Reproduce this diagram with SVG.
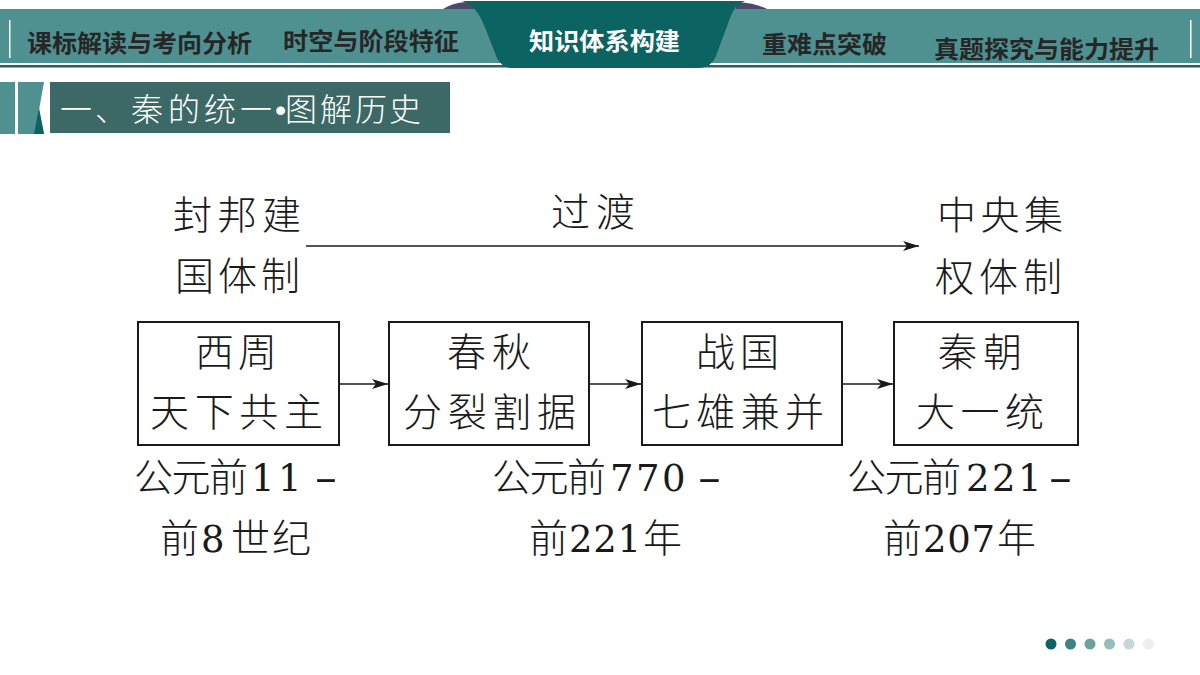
<svg xmlns="http://www.w3.org/2000/svg" width="1200" height="675" viewBox="0 0 1200 675">
<style>
.tab{font-family:"Noto Sans CJK SC","Noto Sans",sans-serif;font-weight:700;font-size:24px;fill:#262626}
.t{font-family:"Noto Sans CJK SC",sans-serif;font-size:39px;fill:#1a1a1a;font-weight:300}
.d{font-family:"DejaVu Serif","Liberation Serif",serif;font-size:37px;fill:#1a1a1a;font-weight:400}
.box{fill:#fff;stroke:#1a1a1a;stroke-width:2}
.c{fill:none;stroke:#1a1a1a;stroke-width:1.6}
</style>
<defs>
<marker id="a" markerUnits="userSpaceOnUse" markerWidth="16" markerHeight="12" refX="16" refY="6" orient="auto"><path d="M0 1 L16 6 L0 11 L4 6 Z" fill="#1a1a1a"/></marker>
</defs>
<g id="header">
<rect x="0" y="9" width="1200" height="54" fill="#4f9191"/>
<rect x="0" y="63" width="1200" height="2" fill="#fff"/>
<rect x="0" y="65" width="1200" height="2.500" fill="#2f5d5d"/>
<rect x="9" y="20" width="1.500" height="38" fill="#fff"/>
<rect x="1190" y="20" width="1.500" height="38" fill="#fff"/>
<path d="M443 9 Q452 3 466 2 L480 9 Z" fill="#4a4a6a"/>
<path d="M737 2 Q755 3 767 9 L735 9 Z" fill="#4a4a6a"/>
<path d="M462 1 L745 1 Q735 4 730 18 L716 56 Q711 68 698 68 L512 68 Q502 68 497 58 L484 25 Q476 5 462 1 Z" fill="#0b6362"/>
<text class="tab" x="27" y="52" textLength="225" lengthAdjust="spacingAndGlyphs">课标解读与考向分析</text>
<text class="tab" x="283" y="50" textLength="176" lengthAdjust="spacingAndGlyphs">时空与阶段特征</text>
<text class="tab" x="529" y="50" textLength="151" lengthAdjust="spacingAndGlyphs" style="fill:#fff">知识体系构建</text>
<text class="tab" x="762" y="53" textLength="125" lengthAdjust="spacingAndGlyphs">重难点突破</text>
<text class="tab" x="934" y="58" textLength="225" lengthAdjust="spacingAndGlyphs">真题探究与能力提升</text>
</g>
<g id="section-title">
<rect x="0" y="82" width="15" height="52" fill="#4f9191"/>
<path d="M18 82 H44 L39 110 L44 134 H18 Z" fill="#4f9191"/>
<path d="M39 108 L44 134 L34 134 Z" fill="#0b6362"/>
<rect x="50" y="82" width="400" height="51" fill="#3c6866"/>
<text x="60 95 131 168 204 240 275 285 320 355 389" y="121" font-family="'Liberation Sans','Noto Sans CJK SC',sans-serif" font-size="32" font-weight="300" fill="#fff">一、秦的统一•图解历史</text>
</g>
<g id="connectors">
<path class="c" d="M306 246 H919" marker-end="url(#a)"/>
<path class="c" d="M339 384 H388" marker-end="url(#a)"/>
<path class="c" d="M590 384 H641" marker-end="url(#a)"/>
<path class="c" d="M843 384 H893" marker-end="url(#a)"/>
</g>
<g id="label-left"><text class="t" x="173" y="229" textLength="128">封邦建</text><text class="t" x="175" y="290" textLength="125">国体制</text></g>
<g id="label-mid"><text class="t" x="551" y="226" textLength="84">过渡</text></g>
<g id="label-right"><text class="t" x="937" y="229" textLength="126">中央集</text><text class="t" x="935" y="291" textLength="127">权体制</text></g>
<g id="node-xizhou"><rect class="box" x="138" y="322" width="201" height="123"/><text class="t" x="195" y="366" textLength="82">西周</text><text class="t" x="150" y="426" textLength="173">天下共主</text></g>
<g id="node-chunqiu"><rect class="box" x="389" y="322" width="200" height="123"/><text class="t" x="447" y="366" textLength="84">春秋</text><text class="t" x="403" y="426" textLength="173">分裂割据</text></g>
<g id="node-zhanguo"><rect class="box" x="642" y="322" width="200" height="123"/><text class="t" x="696" y="366" textLength="83">战国</text><text class="t" x="652" y="426" textLength="172">七雄兼并</text></g>
<g id="node-qin"><rect class="box" x="894" y="322" width="184" height="123"/><text class="t" x="938" y="366" textLength="84">秦朝</text><text class="t" x="916" y="426" textLength="128">大一统</text></g>
<g id="date-1"><text class="t" x="134" y="491" textLength="114">公元前</text><text class="d" x="251 278" y="491">11</text><text class="d" x="314" y="491" textLength="24" lengthAdjust="spacingAndGlyphs">-</text><text class="t" x="160" y="552">前</text><text class="d" x="201" y="552">8</text><text class="t" x="231" y="552" textLength="80">世纪</text></g>
<g id="date-2"><text class="t" x="492" y="491" textLength="114">公元前</text><text class="d" x="610 636 662" y="491">770</text><text class="d" x="697" y="491" textLength="25" lengthAdjust="spacingAndGlyphs">-</text><text class="t" x="529" y="552">前</text><text class="d" x="569" y="552" textLength="72">221</text><text class="t" x="643" y="552">年</text></g>
<g id="date-3"><text class="t" x="847" y="491" textLength="114">公元前</text><text class="d" x="966 992 1018" y="491">221</text><text class="d" x="1048" y="491" textLength="25" lengthAdjust="spacingAndGlyphs">-</text><text class="t" x="883" y="552">前</text><text class="d" x="923" y="552" textLength="72">207</text><text class="t" x="997" y="552">年</text></g>
<g id="pager">
<circle cx="1051" cy="644" r="5.500" fill="#0b6362"/>
<circle cx="1070.500" cy="644" r="5.500" fill="#3b8381"/>
<circle cx="1090" cy="644" r="5.500" fill="#6ba3a0"/>
<circle cx="1109.500" cy="644" r="5.500" fill="#97bdbb"/>
<circle cx="1129" cy="644" r="5.500" fill="#c4d8d6"/>
<circle cx="1148.500" cy="644" r="5.500" fill="#eeeeee"/>
</g>
</svg>
